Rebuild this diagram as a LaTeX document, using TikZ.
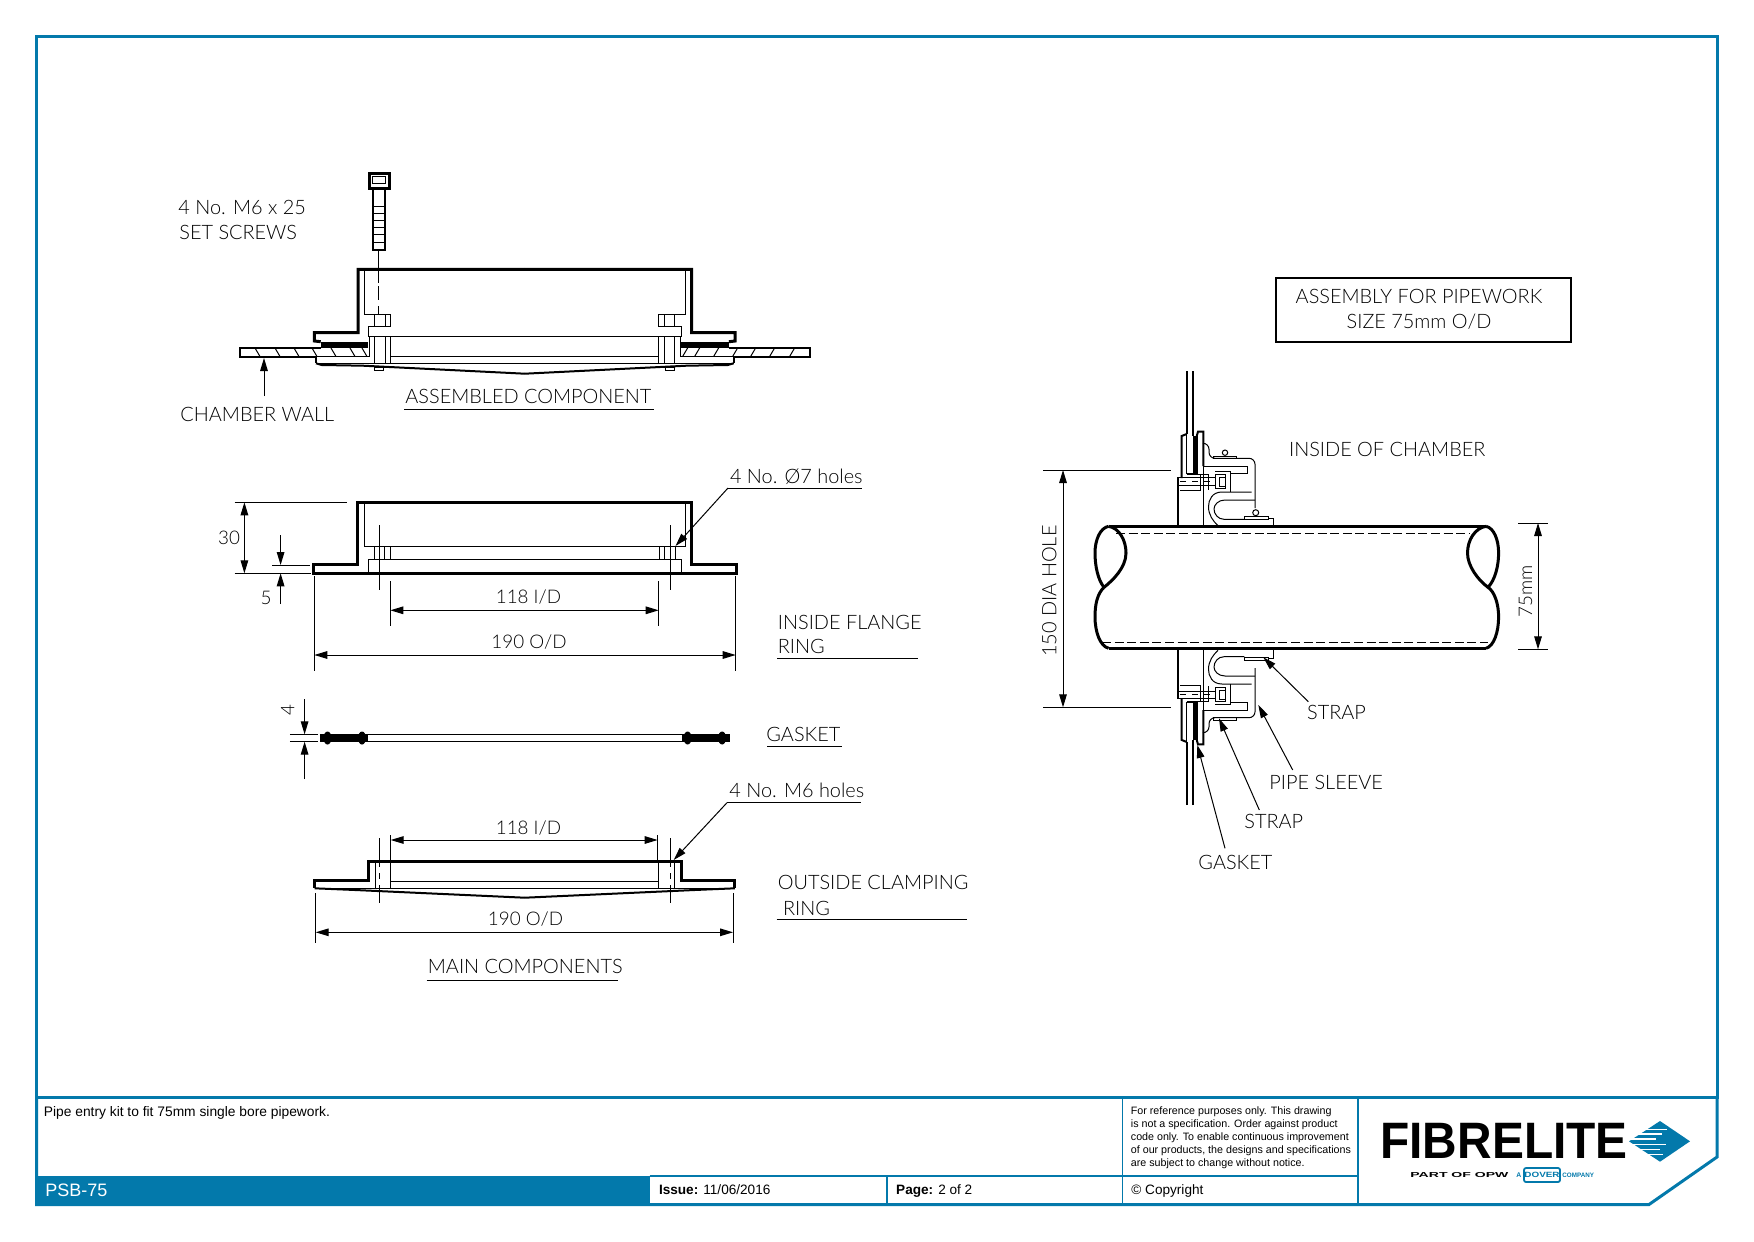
\documentclass[tikz,border=0pt]{standalone}
\usepackage{fontspec}
\setmainfont{Liberation Sans}
\newfontfamily\cadfont{Lato Light}
\usetikzlibrary{arrows.meta}
\definecolor{fibreblue}{HTML}{0379AB}
\tikzset{
  heavyline/.style={line width=1.5pt},
  midline/.style={line width=1pt},
  hairline/.style={line width=0.5pt},
  dimline/.style={line width=0.5pt, {Triangle[length=6.5pt,width=3.8pt]}-{Triangle[length=6.5pt,width=3.8pt]}},
  leader/.style={line width=0.5pt, -{Triangle[length=6.5pt,width=3.8pt]}},
  cadlabel/.style={font=\cadfont\fontsize{9.95}{12}\selectfont, inner sep=0pt, anchor=west},
  dimvalue/.style={font=\cadfont\fontsize{9.4}{12}\selectfont, inner sep=0pt, anchor=center},
  blocklabel/.style={font=\fontsize{6.8}{8}\selectfont, inner sep=0pt, anchor=west},
}
\begin{document}
\begin{tikzpicture}[x=0.5pt,y=-0.5pt]
\useasboundingbox (0,0) rectangle (1754,1241);
\def\ringmid{524.8} % all three rings are symmetric about this x
\def\pipemid{588} % the sleeve detail is symmetric about this y

% Sheet frame and title block
\fill[fibreblue] (36.5,1176) rectangle (649.5,1204);
\draw[fibreblue, heavyline] (36.5,36.5) rectangle (1717,1097);
\draw[fibreblue, heavyline] (36.5,1097) -- (36.5,1204.5) -- (1649,1204.5) -- (1717,1157) -- (1717,1097);
\draw[fibreblue, line width=0.7pt] (649.5,1176) -- (1358,1176);
\draw[fibreblue, line width=0.7pt] (887,1176) -- (887,1204);
\draw[fibreblue, line width=0.7pt] (1122.5,1097) -- (1122.5,1204);
\draw[fibreblue, line width=0.7pt] (1358,1097) -- (1358,1204);
\node[blocklabel, font=\fontsize{6.9}{8}\selectfont] (description) at (43.5,1112.7) {Pipe entry kit to fit 75mm single bore pipework.};
\node[blocklabel, text=white, font=\fontsize{9}{10}\selectfont] (partcode) at (45,1190.7) {PSB-75};
\node[blocklabel] (issue) at (658.6,1190) {\textbf{Issue:} 11/06/2016};
\node[blocklabel] (page) at (895.8,1191) {\textbf{Page:} 2 of 2};
\node[blocklabel, align=left, font=\fontsize{5.35}{6.45}\selectfont] (disclaimer) at (1130.5,1137.5) {For reference purposes only. This drawing\\is not a specification. Order against product\\code only.  To enable continuous improvement\\of our products, the designs and specifications\\are subject to change without notice.};
\node[blocklabel] (copyright) at (1131,1191) {\textcopyright\ Copyright};

% Logo
\node[inner sep=0pt, anchor=west, font=\bfseries\fontsize{25.6}{26}\selectfont] (logoname) at (1380,1140.7) {\scalebox{.935}[1]{FIBRELITE}};
\fill[fibreblue] (1629,1141.3) -- (1660,1121) -- (1690,1141.3) -- (1660,1161.7) -- cycle;
\foreach \y/\a/\b in {1129.3/1645/1667, 1134/1636/1662, 1139/1630/1656, 1144.3/1630/1666, 1149.3/1640/1660, 1154.3/1645/1663}
  \draw[white, line width=0.6pt] (\a,\y) -- (\b,\y);
\node[inner sep=0pt, anchor=west, font=\bfseries\fontsize{3.6}{4}\selectfont] (logopart) at (1410,1175) {\scalebox{1.95}[1]{PART OF OPW}};
\node[inner sep=0pt, anchor=west, text=fibreblue, font=\bfseries\fontsize{3.4}{4}\selectfont] (logoa) at (1516,1175) {A};
\draw[fibreblue, line width=0.9pt, rounded corners=1pt] (1524,1168) rectangle (1560,1182);
\node[inner sep=0pt, text=fibreblue, font=\bfseries\fontsize{3.8}{4}\selectfont] (logodover) at (1542,1175) {\scalebox{1.3}[1]{DOVER}};
\node[inner sep=0pt, anchor=west, text=fibreblue, font=\bfseries\fontsize{3.2}{4}\selectfont] (logocompany) at (1562,1175) {\scalebox{.98}[1]{COMPANY}};

% Assembled component
\foreach \s in {1,-1} {
\begin{scope}[shift={(\ringmid,0)},xscale=\s,shift={(-\ringmid,0)}]
\draw[heavyline] (\ringmid,269.3) -- (358,269.3) -- (358,332.7) -- (314.4,332.7) -- (314.4,341) -- (320.7,341.7);
\fill (320.7,341.7) rectangle (368.3,347.7);
\draw[hairline] (364.3,269.3) -- (364.3,314.3) -- (374.7,314.3);
\draw[hairline] (374.7,314.3) rectangle (390.7,326.7);
\draw[hairline] (385.3,314.3) -- (385.3,326.7);
\draw[hairline] (390.7,326.7) -- (368.3,326.7) -- (368.3,336.7) -- (\ringmid,336.7);
\draw[midline] (320.7,347.7) -- (240,347.7) -- (240,356.7) -- (316,356.7) -- (316,363.3);
\draw[hairline] (316,356.7) -- (369.3,356.7) -- (369.3,336.7);
\foreach \x in {255,275,294,312,331,350,362}
  \draw[hairline] (\x,348) -- (\x+5,356.5);
\foreach \x in {374.7,385.3,390.7}
  \draw[hairline] (\x,336.7) -- (\x,363.3);
\draw[hairline] (390.7,356.7) -- (\ringmid,356.7);
\draw[hairline] (316,363.3) -- (\ringmid,363.3);
\draw[midline] (316,363.3) -- (321.7,365) -- (363,365.7) -- (\ringmid,373.7);
\draw[hairline] (374.7,367) rectangle (383.8,370.7);
\end{scope}
}

% Set screw above the ring
\draw[heavyline] (369,174) rectangle (389,189);
\draw[hairline] (372.5,177) rectangle (385.5,184);
\draw[midline] (373,189) rectangle (385,250);
\foreach \y in {207,214,...,245}
  \draw[hairline] (373,\y) -- (385,\y);
\draw[hairline] (378.5,250) -- (378.5,283);
\draw[hairline, dash pattern=on 7pt off 3pt] (378.5,286) -- (378.5,314);

\node[cadlabel] (screwsa) at (178,207) {4 No. M6 x 25};
\node[cadlabel] (screwsb) at (179,232) {SET SCREWS};
\node[cadlabel] (wall) at (180,414) {CHAMBER WALL};
\coordinate (wallfoot) at (264,396);
\coordinate (walltip) at (264,358);
\draw[leader] (wallfoot) -- (walltip);
\node[cadlabel] (assembled) at (405,396) {ASSEMBLED COMPONENT};
\draw[hairline] (404,409) -- (653.5,409);

% Inside flange ring
\foreach \s in {1,-1} {
\begin{scope}[shift={(\ringmid,0)},xscale=\s,shift={(-\ringmid,0)}]
\draw[heavyline] (\ringmid,502) -- (357.7,502) -- (357.7,564) -- (313,564) -- (313,573.3) -- (\ringmid,573.3);
\draw[hairline] (364.3,502) -- (364.3,546.3) -- (\ringmid,546.3);
\foreach \x in {374.5,384.7,390.3}
  \draw[hairline] (\x,546.3) -- (\x,559.3);
\draw[hairline] (\ringmid,559.3) -- (368.4,559.3) -- (368.4,573.3);
\draw[hairline] (379.6,525) -- (379.6,590);
\end{scope}
}

% Dimensions of the flange ring
\draw[hairline] (234.7,502.3) -- (347,502.3);
\draw[hairline] (234.7,573.3) -- (311,573.3);
\coordinate (heighttop) at (244.4,502.3);
\coordinate (heightbot) at (244.4,573.3);
\draw[dimline] (heighttop) -- (heightbot);
\node[dimvalue] (heightval) at (229,538) {30};
\draw[hairline] (272.4,565) -- (310,565);
\coordinate (lipabove) at (280.6,535);
\coordinate (liptop) at (280.6,565);
\coordinate (lipbelow) at (280.6,604);
\coordinate (lipbot) at (280.6,573.3);
\draw[leader] (lipabove) -- (liptop);
\draw[leader] (lipbelow) -- (lipbot);
\node[dimvalue] (lipval) at (266,598) {5};
\draw[hairline] (390.3,581) -- (390.3,625.7);
\draw[hairline] (658.7,581) -- (658.7,625.7);
\coordinate (boreleft) at (390.3,610.3);
\coordinate (boreright) at (658.7,610.3);
\draw[dimline] (boreleft) -- (boreright);
\node[dimvalue] (boreval) at (528.5,596.7) {118 I/D};
\draw[hairline] (314.3,576) -- (314.3,670.7);
\draw[hairline] (735.7,576) -- (735.7,670.7);
\coordinate (odleft) at (314.3,655);
\coordinate (odright) at (735.7,655);
\draw[dimline] (odleft) -- (odright);
\node[dimvalue] (odval) at (529,642) {190 O/D};
\node[cadlabel] (flangea) at (777.5,622) {INSIDE FLANGE};
\node[cadlabel] (flangeb) at (777.5,646.7) {RING};
\draw[hairline] (777,658.3) -- (918,658.3);
\node[cadlabel] (holesa) at (729.6,476.7) {4 No. Ø7 holes};
\coordinate (holesfoot) at (728,488);
\coordinate (holestip) at (675.5,546);
\draw[hairline] (holesfoot) -- (862,488);
\draw[leader] (holesfoot) -- (holestip);

% Gasket
\foreach \s in {1,-1} {
\begin{scope}[shift={(\ringmid,0)},xscale=\s,shift={(-\ringmid,0)}]
\draw[line width=0.6pt] (368,734.3) -- (\ringmid,734.3);
\draw[line width=0.6pt] (368,741.7) -- (\ringmid,741.7);
\fill (320,734.3) rectangle (368,741.7);
\fill (327.5,738) ellipse (4 and 6.5);
\fill (362,738) ellipse (4 and 6.5);
\end{scope}
}
\draw[hairline] (289.8,734.3) -- (318.4,734.3);
\draw[hairline] (289.8,741.7) -- (318.4,741.7);
\coordinate (gasketabove) at (304.6,699);
\coordinate (gaskettop) at (304.6,734.3);
\coordinate (gasketbelow) at (304.6,779);
\coordinate (gasketbot) at (304.6,741.7);
\draw[leader] (gasketabove) -- (gaskettop);
\draw[leader] (gasketbelow) -- (gasketbot);
\node[dimvalue, rotate=90] (gasketval) at (287.8,710) {4};
\node[cadlabel] (gasketname) at (766,734) {GASKET};
\draw[hairline] (767,746.7) -- (842,746.7);

% Outside clamping ring
\foreach \s in {1,-1} {
\begin{scope}[shift={(\ringmid,0)},xscale=\s,shift={(-\ringmid,0)}]
\draw[heavyline] (\ringmid,861) -- (368.5,861) -- (368.5,880.7) -- (314.7,880.7) -- (314.7,888.3);
\draw[hairline] (314.7,888.3) -- (\ringmid,888.3);
\draw[midline] (314.7,888.3) -- (355,890) -- (\ringmid,897.7);
\draw[hairline] (375.6,861) -- (375.6,888.3);
\draw[hairline] (390.7,861) -- (390.7,888.3);
\draw[hairline] (390.7,881) -- (\ringmid,881);
\draw[hairline] (379.3,838) -- (379.3,861);
\draw[hairline, dashed] (379.3,861) -- (379.3,888);
\draw[hairline] (379.3,888) -- (379.3,903);
\end{scope}
}
\draw[hairline] (390.7,835) -- (390.7,861);
\draw[hairline] (657.6,835) -- (657.6,861);
\coordinate (ringboreleft) at (390.7,840);
\coordinate (ringboreright) at (657.6,840);
\draw[dimline] (ringboreleft) -- (ringboreright);
\node[dimvalue] (ringboreval) at (528.5,827.7) {118 I/D};
\node[cadlabel] (tappeda) at (729,790.7) {4 No. M6 holes};
\coordinate (tappedfoot) at (727,802.7);
\coordinate (tappedtip) at (673.7,860);
\draw[hairline] (tappedfoot) -- (861.4,802.7);
\draw[leader] (tappedfoot) -- (tappedtip);
\draw[hairline] (315.7,893) -- (315.7,943);
\draw[hairline] (733,893) -- (733,943);
\coordinate (ringodleft) at (315.7,932.3);
\coordinate (ringodright) at (733,932.3);
\draw[dimline] (ringodleft) -- (ringodright);
\node[dimvalue] (ringodval) at (525.5,919) {190 O/D};
\node[cadlabel] (clampinga) at (777.5,882.7) {OUTSIDE CLAMPING};
\node[cadlabel] (clampingb) at (782.6,908.5) {RING};
\draw[hairline] (776.5,919) -- (966.6,919);
\node[cadlabel] (maincomps) at (427.5,966.7) {MAIN COMPONENTS};
\draw[hairline] (426.5,980) -- (617.5,980);

% Pipe through the chamber wall
\draw[heavyline] (1108.6,526.3) -- (1486,526.3);
\draw[heavyline] (1108.6,648.3) -- (1486,648.3);
\draw[heavyline] (1108.6,526.3) .. controls (1100,528) and (1095,540) .. (1095,553) .. controls (1095,566) and (1098,580) .. (1104,587.3) .. controls (1097,594) and (1095,605) .. (1095,616.7) .. controls (1095,632) and (1100,646) .. (1108.6,648.3);
\draw[heavyline] (1108.6,526.3) .. controls (1119,528) and (1126,540) .. (1126,553) .. controls (1126,568) and (1112,581) .. (1104,587.3);
\draw[heavyline] (1486,526.3) .. controls (1494,528) and (1498.6,540) .. (1498.6,553) .. controls (1498.6,566) and (1495,580) .. (1488,587.3) .. controls (1495,592) and (1498.6,605) .. (1498.6,616.7) .. controls (1498.6,632) and (1494,646) .. (1486,648.3);
\draw[heavyline] (1486,526.3) .. controls (1475,528) and (1467.5,540) .. (1467.5,553) .. controls (1467.5,566) and (1478,580) .. (1488,587.3);
\draw[hairline, dash pattern=on 4.5pt off 1.8pt] (1116,533.3) -- (1470,533.3);
\draw[hairline, dash pattern=on 4.5pt off 1.8pt] (1102,642.3) -- (1488,642.3);

% Sleeve detail, drawn once and mirrored across the pipe
\foreach \s in {1,-1} {
\begin{scope}[shift={(0,\pipemid)},yscale=\s,shift={(0,-\pipemid)}]
\draw[midline] (1186.7,371) -- (1186.7,434);
\draw[midline] (1193.3,371) -- (1193.3,436);
\draw[midline] (1178.3,525.7) -- (1178.3,478);
\draw[midline] (1181.7,478) -- (1181.7,436) -- (1186.7,434);
\draw[midline] (1196.7,436) -- (1198,431.7) -- (1203.3,431.7) -- (1203.3,466);
\fill (1193.3,436) rectangle (1197.7,473.3);
\draw[hairline] (1186.7,434) -- (1186.7,473.3) -- (1197.7,473.3);
\draw[hairline] (1186.7,474.3) -- (1208.3,474.3) -- (1208.3,490);
\draw[hairline] (1180,490.7) -- (1200,490.7) -- (1200,474.3);
\draw[hairline] (1177.7,477.7) rectangle (1215,485);
\draw[hairline, dashed] (1180,481.3) -- (1215,481.3);
\draw[hairline] (1215,474.3) rectangle (1225.7,488.3);
\draw[hairline] (1219,477) rectangle (1225.7,486);
\draw[hairline] (1215,471.7) -- (1230,471.7) -- (1230,491.7);
\draw[hairline] (1203.3,466) -- (1247.3,466) -- (1247.3,473.3) -- (1230,473.3);
\draw[hairline] (1203.3,466) -- (1203.3,525.7);
\draw[hairline, rounded corners=3pt] (1203.3,443.3) -- (1209,443.3) -- (1209,458.3) -- (1255,458.3) -- (1255,508);
\draw[hairline] (1251.7,492) -- (1222,492) .. controls (1212,492) and (1208.5,500) .. (1208.5,506.7) .. controls (1208.5,515) and (1213,521) .. (1218,525.7);
\draw[hairline] (1255,500) -- (1225,500) .. controls (1218,500) and (1214,505) .. (1214,509) .. controls (1214,514) and (1218,519.3) .. (1224,519.3) -- (1244.3,519.3);
\draw[hairline] (1268.3,518) -- (1273.3,518) -- (1273.3,525.7);
\draw[hairline] (1213.3,456) rectangle (1236.7,458.3);
\draw[hairline] (1244.3,516) rectangle (1268.3,519);
\end{scope}
}
% Strap screws only show on the upper side
\draw[hairline] (1225,452.7) circle (2.7);
\draw[hairline] (1255.7,512.7) circle (3);

% Dimensions of the pipe assembly
\draw[hairline] (1043,470) -- (1171,470);
\draw[hairline] (1043,707.3) -- (1171,707.3);
\coordinate (holetop) at (1063,470);
\coordinate (holebot) at (1063,707.3);
\draw[dimline] (holetop) -- (holebot);
\node[dimvalue, font=\cadfont\fontsize{9.95}{12}\selectfont, rotate=90] (holeval) at (1049.3,591) {150 DIA HOLE};
\draw[hairline] (1518,523) -- (1547.5,523);
\draw[hairline] (1518,649.3) -- (1547.5,649.3);
\coordinate (pipetop) at (1538,523);
\coordinate (pipebot) at (1538,649.3);
\draw[dimline] (pipetop) -- (pipebot);
\node[dimvalue, rotate=90] (pipeval) at (1525.4,591) {75mm};

% Labels of the pipe assembly
\draw[line width=1pt] (1276,277.7) rectangle (1571,341.7);
\node[cadlabel, anchor=center] (sizea) at (1419,296.7) {ASSEMBLY FOR PIPEWORK};
\node[cadlabel, anchor=center] (sizeb) at (1419,321.7) {SIZE 75mm O/D};
\node[cadlabel] (inside) at (1288.7,449.7) {INSIDE OF CHAMBER};
\node[cadlabel] (strapa) at (1306.7,712.3) {STRAP};
\coordinate (strapafoot) at (1308.3,701.7);
\coordinate (strapatip) at (1263.3,657.3);
\draw[leader] (strapafoot) -- (strapatip);
\node[cadlabel] (sleeve) at (1269,782.3) {PIPE SLEEVE};
\coordinate (sleevefoot) at (1292.7,770);
\coordinate (sleevetip) at (1258.3,705);
\draw[leader] (sleevefoot) -- (sleevetip);
\node[cadlabel] (strapb) at (1244,821.7) {STRAP};
\coordinate (strapbfoot) at (1259.3,810);
\coordinate (strapbtip) at (1219,718.3);
\draw[leader] (strapbfoot) -- (strapbtip);
\node[cadlabel] (gasketlabel) at (1198,862.3) {GASKET};
\coordinate (gasketfoot) at (1225,848.3);
\coordinate (gaskettip) at (1197.3,745);
\draw[leader] (gasketfoot) -- (gaskettip);
\end{tikzpicture}
\end{document}
